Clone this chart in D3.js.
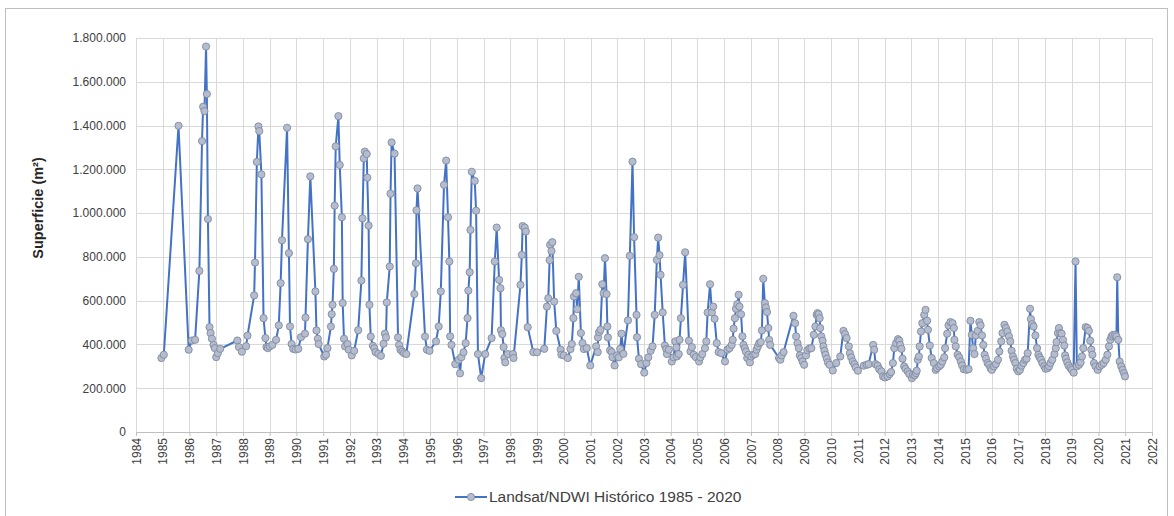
<!DOCTYPE html>
<html>
<head>
<meta charset="utf-8">
<script src="https://cdn.jsdelivr.net/npm/d3@7"></script>
<style>
  body { margin: 0; background: #fff; }
  svg { font-family: "Liberation Sans", Arial, sans-serif; }
</style>
</head>
<body>
<svg id="chart" width="1174" height="516"></svg>
<script>
// fecha de cada imagen (año decimal) y superficie en miles de m2
var anios = [
  1984.95, 1985.04, 1985.59, 1985.97, 1986.09, 1986.21, 1986.37, 1986.47, 1986.51, 1986.56,
  1986.62, 1986.65, 1986.69, 1986.75, 1986.79, 1986.84, 1986.90, 1986.95, 1987.00, 1987.06,
  1987.15, 1987.79, 1987.85, 1987.96, 1988.12, 1988.17, 1988.42, 1988.45, 1988.52, 1988.58,
  1988.61, 1988.69, 1988.77, 1988.84, 1988.88, 1988.93, 1989.00, 1989.10, 1989.24, 1989.34,
  1989.41, 1989.46, 1989.65, 1989.72, 1989.76, 1989.82, 1989.88, 1989.97, 1990.07, 1990.17,
  1990.32, 1990.34, 1990.43, 1990.52, 1990.71, 1990.75, 1990.80, 1990.83, 1991.04, 1991.11,
  1991.16, 1991.29, 1991.32, 1991.35, 1991.40, 1991.43, 1991.47, 1991.57, 1991.62, 1991.70,
  1991.73, 1991.78, 1991.82, 1991.91, 1991.96, 1992.07, 1992.16, 1992.31, 1992.43, 1992.47,
  1992.52, 1992.56, 1992.63, 1992.65, 1992.70, 1992.73, 1992.78, 1992.86, 1992.91, 1992.96,
  1993.06, 1993.16, 1993.26, 1993.31, 1993.35, 1993.38, 1993.49, 1993.52, 1993.56, 1993.67,
  1993.80, 1993.84, 1993.89, 1993.96, 1994.02, 1994.11, 1994.41, 1994.47, 1994.49, 1994.53,
  1994.81, 1994.88, 1994.98, 1995.22, 1995.32, 1995.40, 1995.52, 1995.60, 1995.67, 1995.72,
  1995.75, 1995.80, 1995.94, 1996.07, 1996.12, 1996.17, 1996.25, 1996.33, 1996.40, 1996.43,
  1996.48, 1996.51, 1996.56, 1996.67, 1996.72, 1996.79, 1996.91, 1997.06, 1997.30, 1997.42,
  1997.49, 1997.58, 1997.63, 1997.65, 1997.70, 1997.75, 1997.78, 1997.81, 1997.91, 1998.10,
  1998.12, 1998.38, 1998.43, 1998.46, 1998.54, 1998.58, 1998.65, 1998.86, 1999.00, 1999.27,
  1999.37, 1999.42, 1999.47, 1999.49, 1999.54, 1999.57, 1999.64, 1999.72, 1999.88, 1999.91,
  2000.00, 2000.15, 2000.25, 2000.30, 2000.36, 2000.38, 2000.46, 2000.50, 2000.56, 2000.64,
  2000.70, 2000.75, 2000.86, 2000.99, 2001.21, 2001.27, 2001.28, 2001.32, 2001.37, 2001.44,
  2001.49, 2001.54, 2001.60, 2001.63, 2001.65, 2001.73, 2001.79, 2001.82, 2001.90, 2001.99,
  2002.06, 2002.11, 2002.16, 2002.23, 2002.40, 2002.47, 2002.57, 2002.63, 2002.72, 2002.74,
  2002.81, 2002.89, 2003.01, 2003.09, 2003.16, 2003.25, 2003.32, 2003.40, 2003.48, 2003.53,
  2003.58, 2003.62, 2003.70, 2003.78, 2003.83, 2003.86, 2003.93, 2004.04, 2004.11, 2004.17,
  2004.21, 2004.23, 2004.30, 2004.33, 2004.38, 2004.46, 2004.54, 2004.68, 2004.74, 2004.79,
  2004.86, 2004.94, 2005.06, 2005.11, 2005.18, 2005.28, 2005.33, 2005.38, 2005.47, 2005.54,
  2005.59, 2005.64, 2005.72, 2005.79, 2005.89, 2006.03, 2006.12, 2006.20, 2006.28, 2006.32,
  2006.35, 2006.40, 2006.44, 2006.49, 2006.54, 2006.57, 2006.63, 2006.68, 2006.72, 2006.77,
  2006.81, 2006.86, 2006.91, 2006.96, 2007.01, 2007.09, 2007.16, 2007.21, 2007.26, 2007.31,
  2007.37, 2007.41, 2007.46, 2007.52, 2007.56, 2007.60, 2007.65, 2007.68, 2007.72, 2008.05,
  2008.10, 2008.15, 2008.22, 2008.59, 2008.65, 2008.69, 2008.74, 2008.79, 2008.83, 2008.88,
  2008.93, 2008.99, 2009.06, 2009.11, 2009.19, 2009.26, 2009.35, 2009.41, 2009.46, 2009.49,
  2009.53, 2009.57, 2009.59, 2009.63, 2009.68, 2009.71, 2009.75, 2009.79, 2009.84, 2009.88,
  2009.94, 2010.06, 2010.19, 2010.34, 2010.46, 2010.52, 2010.58, 2010.66, 2010.70, 2010.75,
  2010.81, 2010.87, 2010.92, 2011.00, 2011.22, 2011.33, 2011.40, 2011.57, 2011.61, 2011.66,
  2011.74, 2011.80, 2011.88, 2011.94, 2012.01, 2012.11, 2012.19, 2012.24, 2012.31, 2012.36,
  2012.43, 2012.50, 2012.55, 2012.58, 2012.63, 2012.67, 2012.73, 2012.78, 2012.86, 2012.92,
  2013.02, 2013.06, 2013.13, 2013.17, 2013.20, 2013.24, 2013.28, 2013.31, 2013.36, 2013.41,
  2013.48, 2013.53, 2013.59, 2013.62, 2013.69, 2013.76, 2013.84, 2013.91, 2013.96, 2014.04,
  2014.10, 2014.16, 2014.23, 2014.26, 2014.34, 2014.39, 2014.46, 2014.54, 2014.59, 2014.61,
  2014.66, 2014.73, 2014.79, 2014.85, 2014.90, 2014.96, 2015.06, 2015.14, 2015.21, 2015.26,
  2015.31, 2015.36, 2015.41, 2015.48, 2015.54, 2015.59, 2015.64, 2015.69, 2015.74, 2015.79,
  2015.85, 2015.91, 2015.96, 2016.01, 2016.09, 2016.16, 2016.24, 2016.29, 2016.36, 2016.41,
  2016.48, 2016.54, 2016.59, 2016.65, 2016.70, 2016.75, 2016.80, 2016.84, 2016.89, 2016.94,
  2017.00, 2017.06, 2017.12, 2017.19, 2017.25, 2017.31, 2017.35, 2017.44, 2017.47, 2017.52,
  2017.57, 2017.64, 2017.70, 2017.75, 2017.80, 2017.85, 2017.90, 2017.97, 2018.02, 2018.10,
  2018.15, 2018.20, 2018.27, 2018.35, 2018.40, 2018.43, 2018.48, 2018.52, 2018.57, 2018.62,
  2018.67, 2018.72, 2018.75, 2018.78, 2018.83, 2018.88, 2018.95, 2019.00, 2019.07, 2019.14,
  2019.19, 2019.27, 2019.33, 2019.38, 2019.43, 2019.52, 2019.59, 2019.64, 2019.69, 2019.73,
  2019.77, 2019.83, 2019.89, 2019.97, 2020.04, 2020.12, 2020.19, 2020.27, 2020.33, 2020.39,
  2020.44, 2020.49, 2020.54, 2020.62, 2020.67, 2020.70, 2020.74, 2020.79, 2020.85, 2020.90,
  2020.95, 2020.99
];

var superficie = [
   338,  353, 1399,  376,  418,  421,  736, 1329, 1486, 1466,
  1761, 1544,  973,  479,  452,  426,  398,  383,  342,  360,
   380,  418,  388,  367,  392,  440,  624,  774, 1234, 1396,
  1375, 1177,  520,  429,  388,  383,  391,  398,  421,  487,
   680,  876, 1390,  817,  482,  402,  380,  377,  380,  433,
   449,  523,  881, 1168,  642,  464,  426,  402,  345,  353,
   383,  482,  538,  581,  745, 1034, 1305, 1443, 1220,  981,
   589,  426,  391,  402,  376,  350,  371,  465,  692,  976,
  1250, 1281, 1270, 1162,  943,  581,  436,  394,  383,  365,
   357,  348,  403,  449,  432,  592,  756, 1089, 1323, 1272,
   432,  398,  376,  368,  360,  356,  630,  771, 1013, 1113,
   436,  376,  371,  414,  482,  642, 1129, 1240,  981,  779,
   437,  398,  310,  330,  268,  342,  364,  406,  520,  646,
   730,  923, 1189, 1147, 1011,  356,  246,  356,  429,  779,
   934,  695,  657,  465,  447,  388,  338,  318,  356,  356,
   338,  672,  809,  941,  934,  916,  479,  365,  364,  380,
   573,  611,  785,  855,  827,  867,  596,  462,  376,  353,
   350,  338,  379,  402,  520,  619,  634,  561,  709,  452,
   406,  379,  383,  304,  391,  365,  432,  456,  467,  675,
   634,  794,  630,  482,  432,  373,  365,  342,  304,  350,
   341,  380,  449,  357,  510,  805, 1235,  890,  535,  433,
   335,  310,  271,  315,  341,  371,  391,  535,  786,  888,
   808,  718,  546,  395,  379,  356,  376,  322,  341,  414,
   386,  345,  356,  421,  520,  672,  821,  417,  368,  388,
   353,  342,  322,  341,  356,  383,  414,  546,  675,  546,
   573,  517,  406,  365,  360,  322,  376,  383,  398,  421,
   472,  520,  563,  584,  627,  573,  538,  437,  398,  383,
   368,  338,  353,  318,  345,  353,  356,  376,  391,  406,
   411,  464,  700,  589,  569,  548,  475,  421,  398,  338,
   330,  350,  365,  531,  497,  437,  406,  383,  350,  338,
   322,  307,  350,  374,  382,  383,  444,  482,  535,  543,
   538,  520,  475,  437,  417,  391,  371,  353,  335,  318,
   307,  281,  315,  345,  462,  447,  429,  391,  360,  341,
   322,  310,  295,  280,  303,  307,  310,  398,  376,  310,
   303,  287,  277,  254,  249,  254,  265,  274,  315,  383,
   406,  424,  417,  398,  380,  335,  300,  289,  277,  265,
   246,  262,  259,  269,  280,  330,  345,  391,  459,  497,
   535,  558,  508,  467,  395,  338,  315,  284,  292,  300,
   307,  322,  341,  383,  449,  487,  502,  497,  475,  421,
   391,  353,  341,  322,  304,  287,  284,  287,  508,  444,
   383,  356,  441,  462,  502,  487,  441,  398,  353,  335,
   315,  307,  292,  284,  300,  310,  330,  368,  414,  452,
   490,  475,  459,  437,  414,  371,  345,  330,  315,  289,
   277,  284,  303,  315,  330,  335,  360,  563,  516,  493,
   482,  441,  383,  353,  341,  330,  315,  300,  289,  292,
   300,  315,  330,  356,  383,  411,  452,  475,  452,  449,
   421,  395,  350,  335,  318,  303,  292,  284,  271,  779,
   300,  307,  318,  345,  383,  479,  475,  462,  417,  376,
   353,  315,  300,  284,  300,  307,  315,  330,  353,  391,
   421,  437,  444,  444,  437,  707,  421,  322,  300,  284,
   269,  254
];

var ticksY = [0, 200000, 400000, 600000, 800000, 1000000, 1200000, 1400000, 1600000, 1800000];
var aniosEje = d3.range(1984, 2023);
var nombreSerie = 'Landsat/NDWI Histórico 1985 - 2020';
var tituloY = 'Superficie (m²)';

var datos = anios.map(function (a, i) { return { anio: a, valor: superficie[i] * 1000 }; });

var azul = '#4472c4',
    rellenoPunto = '#b4bccd',
    bordePunto = '#7f8ba3',
    colorGrid = '#d9d9d9',
    colorTexto = '#404040';

var svg = d3.select('#chart'),
    margin = { left: 136, right: 22, top: 38, bottom: 84 },
    width = 1174 - margin.left - margin.right,
    height = 516 - margin.top - margin.bottom;

var es = d3.formatLocale({ decimal: ',', thousands: '.', grouping: [3], currency: ['', ''] });
var fmt = es.format(',d');

// marco exterior
svg.append('rect')
    .attr('x', 5.5).attr('y', 8.5)
    .attr('width', 1162).attr('height', 530)
    .attr('fill', 'none').attr('stroke', '#bfbfbf');

var x = d3.scaleLinear().domain([1984, 2022]).range([0, width]);
var y = d3.scaleLinear().domain([0, 1800000]).range([height, 0]);

var g = svg.append('g').attr('transform', 'translate(' + margin.left + ',' + margin.top + ')');

// rejilla
g.append('g').selectAll('line').data(ticksY.slice(1)).enter().append('line')
    .attr('x1', 0).attr('x2', width)
    .attr('y1', function (d) { return Math.round(y(d)) + 0.5; })
    .attr('y2', function (d) { return Math.round(y(d)) + 0.5; })
    .attr('stroke', colorGrid);

g.append('g').selectAll('line').data(aniosEje.slice(1)).enter().append('line')
    .attr('x1', function (d) { return Math.round(x(d)) + 0.5; })
    .attr('x2', function (d) { return Math.round(x(d)) + 0.5; })
    .attr('y1', 0).attr('y2', height)
    .attr('stroke', colorGrid);

// eje Y
var ejeY = g.append('g')
    .call(d3.axisLeft(y).tickValues(ticksY).tickFormat(fmt).tickSize(0).tickPadding(10));
ejeY.select('.domain').attr('stroke', colorGrid);
ejeY.selectAll('text').attr('font-size', 12).attr('fill', colorTexto)
    .attr('font-family', '"Liberation Sans", Arial, sans-serif');

// eje X
var ejeX = g.append('g').attr('transform', 'translate(0,' + height + ')')
    .call(d3.axisBottom(x).tickValues(aniosEje).tickFormat(d3.format('d')).tickSize(4));
ejeX.select('.domain').attr('stroke', '#bfbfbf');
ejeX.selectAll('line').attr('stroke', '#bfbfbf');
ejeX.selectAll('text')
    .attr('font-size', 12).attr('fill', colorTexto)
    .attr('font-family', '"Liberation Sans", Arial, sans-serif')
    .attr('transform', 'rotate(-90)')
    .attr('text-anchor', 'end')
    .attr('dx', '-6').attr('dy', '0.35em')
    .attr('x', 0).attr('y', 0);

// título eje Y
svg.append('text')
    .attr('transform', 'translate(43,' + (margin.top + height / 2 - 27) + ') rotate(-90)')
    .attr('text-anchor', 'middle')
    .attr('font-size', 14.5).attr('font-weight', 'bold').attr('fill', '#262626')
    .text(tituloY);

// serie
var linea = d3.line()
    .x(function (d) { return x(d.anio); })
    .y(function (d) { return y(d.valor); });

g.append('path').datum(datos)
    .attr('d', linea)
    .attr('fill', 'none').attr('stroke', azul)
    .attr('stroke-width', 2).attr('stroke-linejoin', 'round');

g.append('g').selectAll('circle').data(datos).enter().append('circle')
    .attr('cx', function (d) { return x(d.anio); })
    .attr('cy', function (d) { return y(d.valor); })
    .attr('r', 3.6)
    .attr('fill', rellenoPunto).attr('stroke', bordePunto).attr('stroke-width', 0.9);

// leyenda
var ley = svg.append('g').attr('transform', 'translate(455,497)');
ley.append('line').attr('x1', 0).attr('x2', 32).attr('y1', 0).attr('y2', 0)
    .attr('stroke', azul).attr('stroke-width', 2);
ley.append('circle').attr('cx', 16).attr('cy', 0).attr('r', 3.6)
    .attr('fill', rellenoPunto).attr('stroke', bordePunto).attr('stroke-width', 0.9);
ley.append('text').attr('x', 34).attr('y', 0).attr('dy', '0.35em')
    .attr('font-size', 15.5).attr('fill', colorTexto)
    .text(nombreSerie);
</script>
</body>
</html>
